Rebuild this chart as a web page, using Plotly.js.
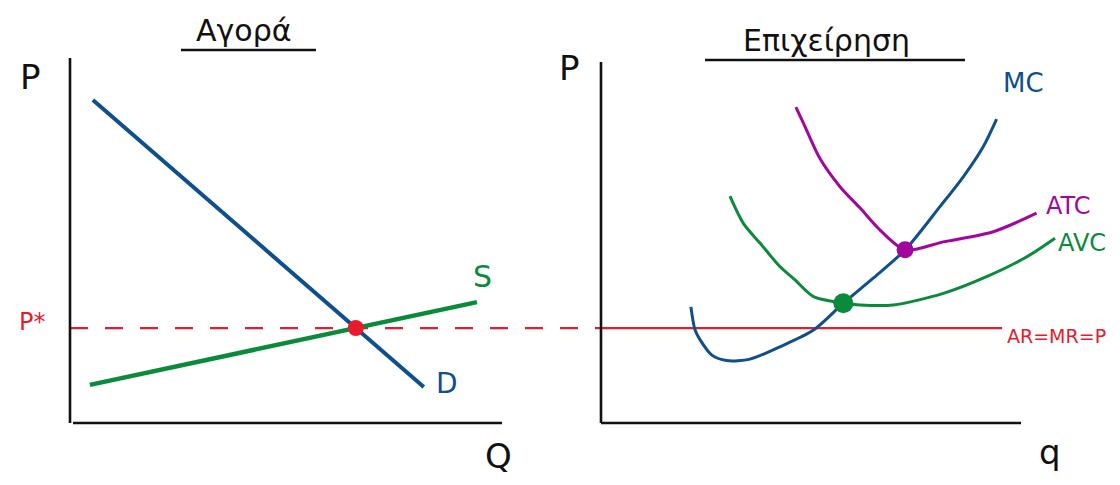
<!DOCTYPE html>
<html>
<head>
<meta charset="utf-8">
<script src="https://cdn.plot.ly/plotly-3.0.1.min.js"></script>
<style>
  html, body { margin: 0; padding: 0; background: #ffffff; }
  #chart { width: 1120px; height: 485px; }
</style>
</head>
<body>
<div id="chart"></div>
<script>
// ---- Market (left panel): straight demand and supply lines ----
const demandQ = [0.53, 8.19];
const demandP = [8.90, 0.99];
const supplyQ = [0.46, 9.42];
const supplyP = [1.05, 3.33];

// ---- Firm (right panel): cost curves ----
const mcQ = [2.14, 2.24, 2.36, 2.64, 2.99, 3.55, 4.26, 5.06, 5.77, 6.48, 7.24, 8.07, 8.63, 9.10, 9.42];
const mcC = [3.20, 2.56, 2.29, 1.87, 1.72, 1.76, 2.10, 2.56, 3.30, 3.99, 4.77, 5.96, 6.79, 7.61, 8.37];

const atcQ = [4.64, 4.82, 5.21, 5.69, 6.17, 6.64, 7.24, 8.15, 9.34, 10.37];
const atcC = [8.70, 8.26, 7.29, 6.51, 5.92, 5.32, 4.77, 4.99, 5.27, 5.78];

const avcQ = [3.07, 3.39, 3.79, 4.26, 4.62, 5.06, 5.77, 6.17, 6.96, 8.15, 9.18, 10.14, 10.81];
const avcC = [6.25, 5.50, 4.95, 4.31, 3.94, 3.48, 3.30, 3.25, 3.25, 3.57, 4.03, 4.58, 5.09];

// minimum points of ATC and AVC, where MC crosses them
const atcMinQ = [7.24], atcMinC = [4.77];
const avcMinQ = [5.77], avcMinC = [3.30];

// extent of the firm's horizontal price line
const priceLineQ = [0, 9.55];

// market equilibrium: intersection of the demand and supply lines
function intersect(ax, ay, bx, by) {
  const m1 = (ay[1] - ay[0]) / (ax[1] - ax[0]);
  const m2 = (by[1] - by[0]) / (bx[1] - bx[0]);
  const c1 = ay[0] - m1 * ax[0];
  const c2 = by[0] - m2 * bx[0];
  const q = (c2 - c1) / (m1 - m2);
  return [q, m1 * q + c1];
}
const [eqQ, eqP] = intersect(demandQ, demandP, supplyQ, supplyP);

const BLUE = '#0e4f8c', GREEN = '#0a8a3b', PURPLE = '#a1079c', RED = '#e81b2c', INK = '#111111';
const W = 1120, H = 485;
const X = px => px / W;
const Y = py => 1 - py / H;

// pixel scale of each panel
const leftOrigin = 70, leftUnit = 43.2;
const rightOrigin = 601, rightUnit = 42;
const baseY = 423, unitY = 36.3;

const traces = [
  { x: demandQ, y: demandP, xaxis: 'x', yaxis: 'y', mode: 'lines',
    line: { color: BLUE, width: 4 }, hoverinfo: 'skip' },
  { x: supplyQ, y: supplyP, xaxis: 'x', yaxis: 'y', mode: 'lines',
    line: { color: GREEN, width: 4.5 }, hoverinfo: 'skip' },
  { x: [eqQ], y: [eqP], xaxis: 'x', yaxis: 'y', mode: 'markers',
    marker: { color: RED, size: 16 }, hoverinfo: 'skip' },

  { x: priceLineQ, y: [eqP, eqP], xaxis: 'x2', yaxis: 'y2', mode: 'lines',
    line: { color: RED, width: 2.2 }, hoverinfo: 'skip' },
  { x: atcQ, y: atcC, xaxis: 'x2', yaxis: 'y2', mode: 'lines',
    line: { color: PURPLE, width: 3, shape: 'spline', smoothing: 0.8 }, hoverinfo: 'skip' },
  { x: avcQ, y: avcC, xaxis: 'x2', yaxis: 'y2', mode: 'lines',
    line: { color: GREEN, width: 3, shape: 'spline', smoothing: 0.8 }, hoverinfo: 'skip' },
  { x: mcQ, y: mcC, xaxis: 'x2', yaxis: 'y2', mode: 'lines',
    line: { color: BLUE, width: 3, shape: 'spline', smoothing: 0.8 }, hoverinfo: 'skip' },
  { x: atcMinQ, y: atcMinC, xaxis: 'x2', yaxis: 'y2', mode: 'markers',
    marker: { color: PURPLE, size: 17 }, hoverinfo: 'skip' },
  { x: avcMinQ, y: avcMinC, xaxis: 'x2', yaxis: 'y2', mode: 'markers',
    marker: { color: GREEN, size: 20 }, hoverinfo: 'skip' }
];

const yRange = [-(H - baseY) / unitY, baseY / unitY];
const hidden = { visible: false, showgrid: false, zeroline: false, fixedrange: true };

const leftTop = (baseY - 58) / unitY;
const rightTop = (baseY - 62) / unitY;
const leftAxisEnd = (502 - leftOrigin) / leftUnit;
const rightAxisEnd = (1021 - rightOrigin) / rightUnit;

const axisLine = { color: INK, width: 2.6 };
const shapes = [
  // left panel axes
  { type: 'line', xref: 'x', yref: 'y', x0: 0, x1: 0, y0: 0, y1: leftTop, line: axisLine },
  { type: 'line', xref: 'x', yref: 'y', x0: 0.07, x1: leftAxisEnd, y0: 0, y1: 0, line: axisLine },
  // right panel axes
  { type: 'line', xref: 'x2', yref: 'y2', x0: 0, x1: 0, y0: 0, y1: rightTop, line: axisLine },
  { type: 'line', xref: 'x2', yref: 'y2', x0: 0, x1: rightAxisEnd, y0: 0, y1: 0, line: axisLine },
  // dashed equilibrium price carried across to the firm
  { type: 'line', xref: 'paper', yref: 'y', x0: X(leftOrigin), x1: X(rightOrigin), y0: eqP, y1: eqP,
    layer: 'below', line: { color: RED, width: 2.2, dash: '18px,17px' } },
  // title underlines
  { type: 'line', xref: 'paper', yref: 'paper', x0: X(181), x1: X(316), y0: Y(50), y1: Y(50),
    line: { color: INK, width: 2.4 } },
  { type: 'line', xref: 'paper', yref: 'paper', x0: X(705), x1: X(965), y0: Y(60), y1: Y(60),
    line: { color: INK, width: 2.4 } }
];

const FONT = 'DejaVu Sans, sans-serif';
function label(text, px, py, size, color, anchor) {
  return { text, xref: 'paper', yref: 'paper', x: X(px), y: Y(py),
    xanchor: anchor || 'center', yanchor: 'middle', showarrow: false,
    font: { family: FONT, size, color } };
}

const annotations = [
  label('Αγορά', 243, 30, 30, INK),
  label('Επιχείρηση', 826, 40, 30, INK),
  label('P', 30, 77, 34, INK),
  label('Q', 498, 456, 34, INK),
  label('P', 569, 68, 34, INK),
  label('q', 1050, 452, 34, INK),
  label('S', 482, 276, 30, GREEN),
  label('D', 447, 383, 28, BLUE),
  label('P*', 32, 322, 24, RED),
  label('MC', 1023, 83, 26, BLUE),
  label('ATC', 1068, 206, 24, PURPLE),
  label('AVC', 1082, 243, 24, GREEN),
  label('AR=MR=P', 1005, 336, 19, RED, 'left')
];

const layout = {
  width: W, height: H,
  margin: { l: 0, r: 0, t: 0, b: 0, pad: 0 },
  paper_bgcolor: '#ffffff', plot_bgcolor: '#ffffff',
  showlegend: false,
  xaxis: Object.assign({ domain: [0, 0.5], anchor: 'y',
    range: [-leftOrigin / leftUnit, (560 - leftOrigin) / leftUnit] }, hidden),
  yaxis: Object.assign({ domain: [0, 1], anchor: 'x', range: yRange }, hidden),
  xaxis2: Object.assign({ domain: [0.5, 1], anchor: 'y2',
    range: [(560 - rightOrigin) / rightUnit, (W - rightOrigin) / rightUnit] }, hidden),
  yaxis2: Object.assign({ domain: [0, 1], anchor: 'x2', range: yRange }, hidden),
  shapes, annotations
};

Plotly.newPlot('chart', traces, layout, { staticPlot: true, displayModeBar: false });
</script>
</body>
</html>
